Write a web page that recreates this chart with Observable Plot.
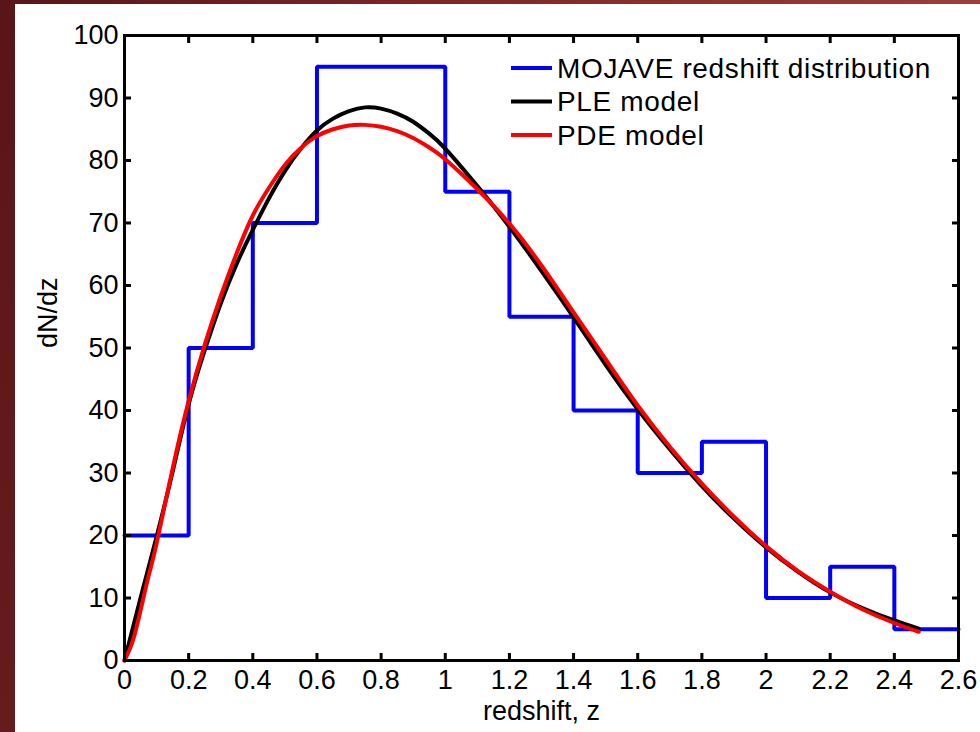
<!DOCTYPE html>
<html>
<head>
<meta charset="utf-8">
<script src="https://cdn.jsdelivr.net/npm/d3@7"></script>
<script src="https://cdn.jsdelivr.net/npm/@observablehq/plot@0.6"></script>
<style>
  html, body { margin: 0; padding: 0; }
  body { width: 980px; height: 732px; overflow: hidden;
         background: linear-gradient(to right, #5a1518 0%, #7a2424 40%, #a03c3c 100%); }
  #left { position: absolute; left: 0; top: 0; width: 15px; height: 732px;
          background: linear-gradient(to bottom, #5a1518, #661b1f); }
  #paper { position: absolute; left: 15px; top: 4px; width: 965px; height: 728px; background: #fff; }
  #chart { position: absolute; left: 0; top: 0; }
</style>
</head>
<body>
<div id="left"></div>
<div id="paper"></div>
<div id="chart"></div>
<script>
// Histogram bins (left edges) and counts
const binEdges = [0, 0.2, 0.4, 0.6, 0.8, 1.0, 1.2, 1.4, 1.6, 1.8, 2.0, 2.2, 2.4, 2.6];
const binCounts = [20, 50, 70, 95, 95, 75, 55, 40, 30, 35, 10, 15, 5];

// PLE model curve (z, dN/dz)
const pleZ = [0, 0.05, 0.1, 0.15, 0.2, 0.25, 0.3, 0.35, 0.4, 0.45, 0.5, 0.55, 0.6, 0.65, 0.7, 0.75, 0.8, 0.85, 0.9, 0.95, 1.0, 1.1, 1.2, 1.3, 1.4, 1.5, 1.6, 1.7, 1.8, 1.9, 2.0, 2.1, 2.2, 2.3, 2.4, 2.476];
const pleV = [0, 10, 19.8, 30.2, 41.0, 49.6, 57.1, 63.5, 68.9, 73.9, 78.3, 81.9, 84.8, 86.7, 87.9, 88.5, 88.3, 87.5, 86.2, 84.3, 81.9, 75.9, 69.4, 62.3, 54.9, 47.3, 40.2, 33.8, 27.9, 22.7, 18.1, 14.2, 10.9, 8.4, 6.4, 5.1];

// PDE model curve (z, dN/dz)
const pdeZ = [0, 0.025, 0.05, 0.075, 0.1, 0.15, 0.2, 0.25, 0.3, 0.35, 0.4, 0.45, 0.5, 0.55, 0.6, 0.65, 0.7, 0.75, 0.8, 0.85, 0.9, 0.95, 1.0, 1.1, 1.2, 1.3, 1.4, 1.5, 1.6, 1.7, 1.8, 1.9, 2.0, 2.1, 2.2, 2.3, 2.4, 2.476];
const pdeV = [0, 3, 8, 13.5, 18.7, 30.7, 41.5, 50.5, 58.3, 65.2, 71.2, 75.6, 79.3, 82.0, 83.9, 85.0, 85.6, 85.7, 85.4, 84.7, 83.6, 82.1, 80.2, 75.4, 69.9, 63.2, 55.7, 48.2, 40.8, 34.2, 28.3, 23.0, 18.3, 14.3, 11.0, 8.2, 6.0, 4.6];

const xTicks = [0, 0.2, 0.4, 0.6, 0.8, 1, 1.2, 1.4, 1.6, 1.8, 2, 2.2, 2.4, 2.6];
const yTicks = [0, 10, 20, 30, 40, 50, 60, 70, 80, 90, 100];

const legendItems = [
  {label: "MOJAVE redshift distribution", color: "#0000ff"},
  {label: "PLE model", color: "#000000"},
  {label: "PDE model", color: "#ff0000"}
];

const hist = binEdges.map((e, i) => ({z: e, n: i < binCounts.length ? binCounts[i] : binCounts[binCounts.length - 1]}));
const ple = pleZ.map((z, i) => ({z, n: pleV[i]}));
const pde = pdeZ.map((z, i) => ({z, n: pdeV[i]}));

const FONT = "'Liberation Sans', Arial, Helvetica, sans-serif";
const fmt = d3.format("~g");
const blank = () => "";

const plot = Plot.plot({
  width: 980,
  height: 732,
  marginLeft: 124,
  marginRight: 22,
  marginTop: 35,
  marginBottom: 72,
  style: {fontFamily: FONT, fontSize: "27px", color: "#000", background: "transparent", overflow: "visible"},
  x: {domain: [0, 2.6], axis: null},
  y: {domain: [0, 100], axis: null},
  marks: [
    Plot.line(hist, {x: "z", y: "n", curve: "step-after", stroke: "#0000ff", strokeWidth: 4, strokeLinejoin: "miter"}),
    Plot.line(ple, {x: "z", y: "n", curve: "natural", stroke: "#000000", strokeWidth: 4}),
    Plot.line(pde, {x: "z", y: "n", curve: "natural", stroke: "#ff0000", strokeWidth: 4}),
    Plot.axisX({anchor: "bottom", ticks: xTicks, tickSize: -7, tickFormat: blank, label: null, strokeWidth: 3}),
    Plot.axisX({anchor: "top", ticks: xTicks, tickSize: -7, tickFormat: blank, label: null, strokeWidth: 3}),
    Plot.axisY({anchor: "left", ticks: yTicks, tickSize: -7, tickFormat: blank, label: null, strokeWidth: 3}),
    Plot.axisY({anchor: "right", ticks: yTicks, tickSize: -7, tickFormat: blank, label: null, strokeWidth: 3}),
    Plot.axisX({anchor: "bottom", ticks: xTicks, tickFormat: fmt, tickSize: 0, tickPadding: 9, label: null, fontSize: 27, fill: "#000"}),
    Plot.axisY({anchor: "left", ticks: yTicks, tickFormat: fmt, tickSize: 0, tickPadding: 6, label: null, fontSize: 27, fill: "#000"}),
    Plot.frame({stroke: "#000", strokeWidth: 3}),
    Plot.text(["redshift, z"], {frameAnchor: "bottom", dy: 51, lineAnchor: "middle", fontSize: 27, fill: "#000"}),
    Plot.text(["dN/dz"], {frameAnchor: "left", dx: -76, rotate: -90, lineAnchor: "middle", fontSize: 27, fill: "#000"})
  ]
});

document.getElementById("chart").appendChild(plot);

// Legend (inside plot area, top right)
const svg = d3.select(plot);
const lg = svg.append("g").attr("font-family", FONT).attr("font-size", 28).attr("text-anchor", "start");
legendItems.forEach((d, i) => {
  const cy = 68 + i * 33.5;
  lg.append("line").attr("x1", 511).attr("x2", 552).attr("y1", cy).attr("y2", cy)
    .attr("stroke", d.color).attr("stroke-width", 4);
  lg.append("text").attr("x", 557).attr("y", cy).attr("dy", "0.35em")
    .attr("text-anchor", "start")
    .attr("fill", "#000").attr("letter-spacing", "0.65px").text(d.label);
});
</script>
</body>
</html>
